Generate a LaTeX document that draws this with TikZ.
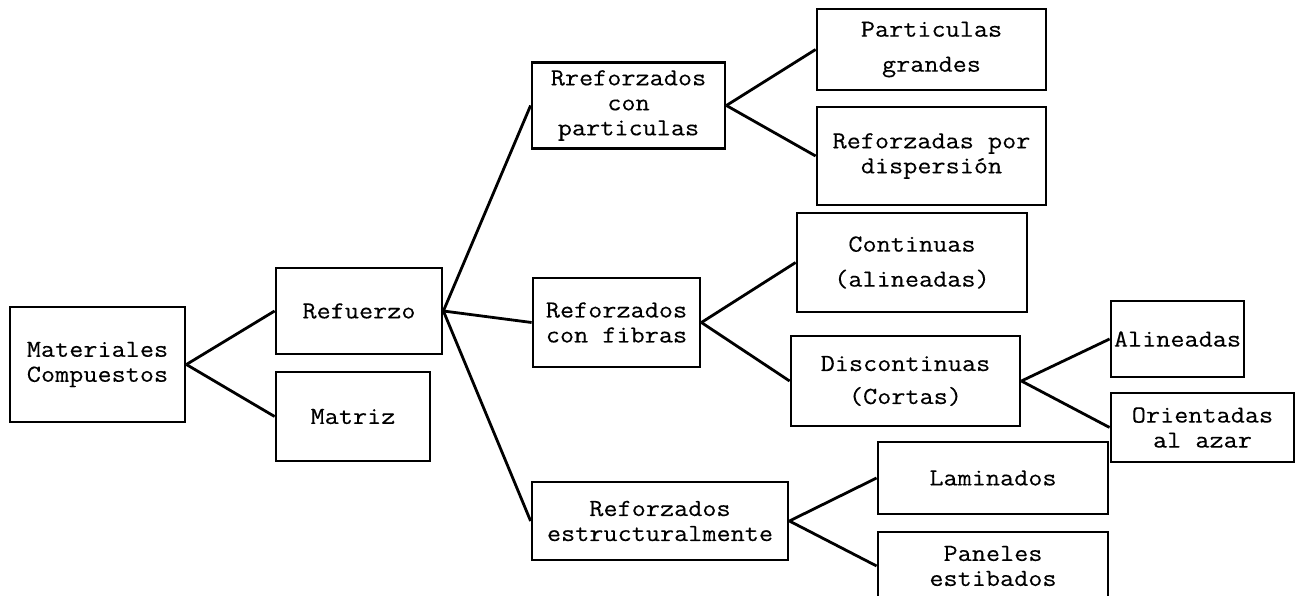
\documentclass[tikz,border=0pt]{standalone}
\usepackage{fontspec}
\setmonofont{Latin Modern Mono}[FakeStretch=1.12, FakeBold=0.25]
\begin{document}
\begin{tikzpicture}[x=1pt,y=-1pt,
  box/.style={draw=black, line width=2.8pt, fill=white, inner sep=0pt,
    align=center, font=\ttfamily\fontsize{24.5}{25}\selectfont},
  airy/.style={font=\ttfamily\fontsize{24.5}{35}\selectfont},
  link/.style={draw=black, line width=2.8pt}]
\clip (0,0) rectangle (1296,596);
\fill[white] (0,0) rectangle (1296,596);

% root and first level
\node[box, minimum width=175, minimum height=115] (mat) at (97.5,364.5) {Materiales\\Compuestos};
\node[box, minimum width=166, minimum height=86] (ref) at (359,311) {Refuerzo};
\node[box, minimum width=154, minimum height=89] (matriz) at (353,416.5) {Matriz};

% kinds of reinforcement
\node[box, minimum width=193, minimum height=86] (rpart) at (628.5,105.5) {Rreforzados\\con\\particulas};
\node[box, minimum width=167, minimum height=89] (fib) at (616.5,322.5) {Reforzados\\con fibras};
\node[box, minimum width=256, minimum height=78] (estr) at (660,521) {Reforzados\\estructuralmente};

% particle reinforced
\node[box, airy, minimum width=229, minimum height=81] (pg) at (931.5,49.5) {Particulas\\grandes};
\node[box, minimum width=229, minimum height=98] (rdisp) at (931.5,156) {Reforzadas por\\dispersión};

% fibre reinforced
\node[box, airy, minimum width=230, minimum height=99] (cont) at (912,262.5) {Continuas\\(alineadas)};
\node[box, font=\ttfamily\fontsize{24.5}{33}\selectfont, minimum width=229, minimum height=90] (disc) at (905.5,381) {Discontinuas\\(Cortas)};
\node[box, minimum width=133, minimum height=76] (alin) at (1177.5,339) {Alineadas};
\node[box, minimum width=183, minimum height=69] (orient) at (1202.5,427.5) {Orientadas\\al azar};

% structural
\node[box, minimum width=230, minimum height=72] (lam) at (993,478) {Laminados};
\node[box, minimum width=230, minimum height=68] (pan) at (993,566) {Paneles\\estibados};

% connectors
\draw[link] (mat.east) -- (ref.west);
\draw[link] (mat.east) -- (matriz.west);
\draw[link] (ref.east) -- (rpart.west);
\draw[link] (ref.east) -- (fib.west);
\draw[link] (ref.east) -- (estr.west);
\draw[link] (rpart.east) -- (pg.west);
\draw[link] (rpart.east) -- (rdisp.west);
\draw[link] (fib.east) -- (cont.west);
\draw[link] (fib.east) -- (disc.west);
\draw[link] (disc.east) -- (alin.west);
\draw[link] (disc.east) -- (orient.west);
\draw[link] (estr.east) -- (lam.west);
\draw[link] (estr.east) -- (pan.west);
\end{tikzpicture}
\end{document}
